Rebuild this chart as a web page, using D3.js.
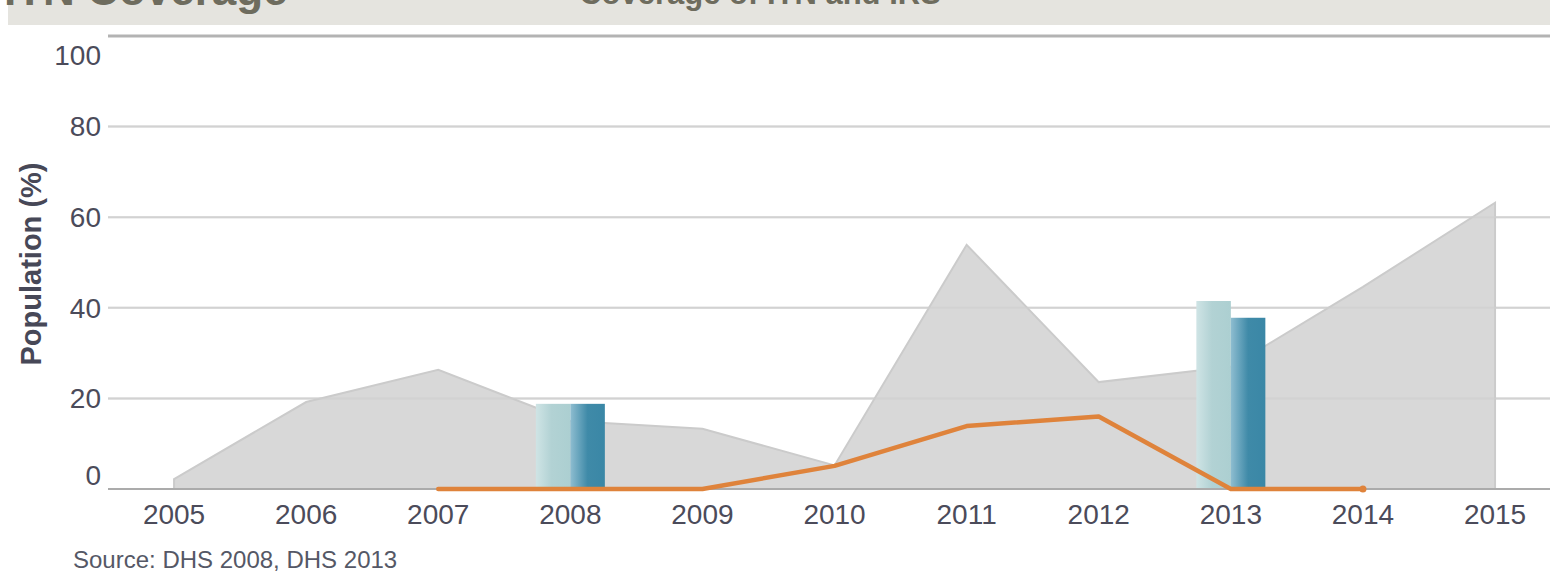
<!DOCTYPE html>
<html>
<head>
<meta charset="utf-8">
<script src="https://cdn.jsdelivr.net/npm/d3@7"></script>
<style>
  body { margin: 0; background: #fff; }
  svg { display: block; font-family: "Liberation Sans", Arial, sans-serif; }
</style>
</head>
<body>
<div id="chart"></div>
<script>
// data
var years = ["2005", "2006", "2007", "2008", "2009", "2010", "2011", "2012", "2013", "2014", "2015"];
var areaValues = [2.2, 19.2, 26.3, 15.0, 13.3, 5.2, 53.9, 23.6, 27.0, 44.6, 63.2];
var lineYears = ["2007", "2008", "2009", "2010", "2011", "2012", "2013", "2014"];
var lineValues = [0, 0, 0, 5.1, 13.9, 16.0, 0, 0];
var barYears = ["2008", "2013"];
var barItn = [18.8, 41.5];
var barIrs = [18.8, 37.8];
var yTicks = [0, 20, 40, 60, 80, 100];

var svgWidth = 1550;
var svgHeight = 572;
var margin = { top: 36, right: 0, bottom: 83, left: 108 };
var height = svgHeight - margin.top - margin.bottom;

var svg = d3.select("#chart")
  .append("svg")
  .attr("width", svgWidth)
  .attr("height", svgHeight);

// header band (cut off at top, as in the source page)
svg.append("rect")
  .attr("x", 8).attr("y", 0)
  .attr("width", svgWidth - 8).attr("height", 25)
  .attr("fill", "#e5e4df");

svg.append("text")
  .attr("x", 4).attr("y", 5)
  .attr("font-family", "'Liberation Sans Narrow', 'Liberation Sans', sans-serif")
  .attr("font-weight", "bold")
  .attr("font-size", "44px")
  .attr("fill", "#6e6c5e")
  .text("ITN Coverage");

svg.append("text")
  .attr("x", 760).attr("y", 4)
  .attr("text-anchor", "middle")
  .attr("font-family", "'Liberation Sans Narrow', 'Liberation Sans', sans-serif")
  .attr("font-weight", "bold")
  .attr("font-size", "31px")
  .attr("fill", "#6e6c5e")
  .text("Coverage of ITN and IRS");

var chartGroup = svg.append("g")
  .attr("transform", `translate(${margin.left}, ${margin.top})`);

// scales
var xScale = d3.scaleBand()
  .domain(years)
  .range([0, 132.1 * years.length]);

var yScale = d3.scaleLinear()
  .domain([0, 100])
  .range([height, 0]);

var xc = d => xScale(d) + xScale.bandwidth() / 2;

// gridlines
chartGroup.selectAll(".grid")
  .data(yTicks.filter(t => t > 0 && t < 100))
  .enter()
  .append("line")
  .attr("x1", 0)
  .attr("x2", svgWidth - margin.left)
  .attr("y1", d => yScale(d))
  .attr("y2", d => yScale(d))
  .attr("stroke", "#d6d6d6")
  .attr("stroke-width", 2);

// area
var areaData = years.map((y, i) => ({ year: y, value: areaValues[i] }));
var area = d3.area()
  .x(d => xc(d.year))
  .y0(yScale(0))
  .y1(d => yScale(d.value));

chartGroup.append("path")
  .datum(areaData)
  .attr("d", area)
  .attr("fill", "#d6d6d6")
  .attr("fill-opacity", 0.95)
  .attr("stroke", "#cbcbcb")
  .attr("stroke-width", 2);

// gridlines shown faintly through the area
chartGroup.selectAll(".grid2")
  .data(yTicks.filter(t => t > 0 && t < 100))
  .enter()
  .append("line")
  .attr("x1", 0)
  .attr("x2", svgWidth - margin.left)
  .attr("y1", d => yScale(d))
  .attr("y2", d => yScale(d))
  .attr("stroke", "#cfcfcf")
  .attr("stroke-opacity", 0.6)
  .attr("stroke-width", 2);

// top line (100)
chartGroup.append("line")
  .attr("x1", 0).attr("x2", svgWidth - margin.left)
  .attr("y1", yScale(100)).attr("y2", yScale(100))
  .attr("stroke", "#b3b3b3")
  .attr("stroke-width", 3);

// gradients for bars
var defs = svg.append("defs");
var g1 = defs.append("linearGradient").attr("id", "gradItn");
g1.append("stop").attr("offset", "0%").attr("stop-color", "#cfe4e5");
g1.append("stop").attr("offset", "45%").attr("stop-color", "#b2d2d4");
g1.append("stop").attr("offset", "100%").attr("stop-color", "#accfd1");
var g2 = defs.append("linearGradient").attr("id", "gradIrs");
g2.append("stop").attr("offset", "0%").attr("stop-color", "#8ebdd0");
g2.append("stop").attr("offset", "50%").attr("stop-color", "#3f8aa8");
g2.append("stop").attr("offset", "100%").attr("stop-color", "#3a87a6");

var barW = 34.5;
var bars = chartGroup.selectAll(".bar")
  .data(barYears)
  .enter();

bars.append("rect")
  .attr("x", d => xc(d) - barW)
  .attr("y", (d, i) => yScale(barItn[i]))
  .attr("width", barW)
  .attr("height", (d, i) => yScale(0) - yScale(barItn[i]))
  .attr("fill", "url(#gradItn)");

bars.append("rect")
  .attr("x", d => xc(d))
  .attr("y", (d, i) => yScale(barIrs[i]))
  .attr("width", barW)
  .attr("height", (d, i) => yScale(0) - yScale(barIrs[i]))
  .attr("fill", "url(#gradIrs)");

// x axis line
chartGroup.append("line")
  .attr("x1", 0).attr("x2", svgWidth - margin.left)
  .attr("y1", yScale(0)).attr("y2", yScale(0))
  .attr("stroke", "#ababab")
  .attr("stroke-width", 2);

// orange line
var lineData = lineYears.map((y, i) => ({ year: y, value: lineValues[i] }));
var line = d3.line()
  .x(d => xc(d.year))
  .y(d => yScale(d.value));

chartGroup.append("path")
  .datum(lineData)
  .attr("d", line)
  .attr("fill", "none")
  .attr("stroke", "#df833b")
  .attr("stroke-width", 4.5)
  .attr("stroke-linecap", "round")
  .attr("stroke-linejoin", "round");

chartGroup.append("circle")
  .attr("cx", xc(lineYears[lineYears.length - 1]))
  .attr("cy", yScale(lineValues[lineValues.length - 1]))
  .attr("r", 3.5)
  .attr("fill", "#df833b");

// y tick labels (0 and 100 sit inside the range)
var labelShift = { 0: -14, 100: 19 };
chartGroup.selectAll(".ylab")
  .data(yTicks)
  .enter()
  .append("text")
  .attr("x", -7)
  .attr("y", d => yScale(d) + (labelShift[d] || 0))
  .attr("dy", "0.35em")
  .attr("text-anchor", "end")
  .attr("font-size", "28px")
  .attr("fill", "#4b4b5a")
  .text(d => d);

// x tick labels
chartGroup.selectAll(".xlab")
  .data(years)
  .enter()
  .append("text")
  .attr("x", d => xc(d))
  .attr("y", yScale(0) + 25)
  .attr("dy", "0.35em")
  .attr("text-anchor", "middle")
  .attr("font-size", "28px")
  .attr("fill", "#4b4b5a")
  .text(d => d);

// y axis label
svg.append("text")
  .attr("transform", "rotate(-90)")
  .attr("x", -264)
  .attr("y", 41)
  .attr("text-anchor", "middle")
  .attr("font-weight", "bold")
  .attr("font-size", "29px")
  .attr("fill", "#474857")
  .text("Population (%)");

// source
svg.append("text")
  .attr("x", 73)
  .attr("y", 568)
  .attr("font-size", "24px")
  .attr("fill", "#555866")
  .text("Source: DHS 2008, DHS 2013");
</script>
</body>
</html>
